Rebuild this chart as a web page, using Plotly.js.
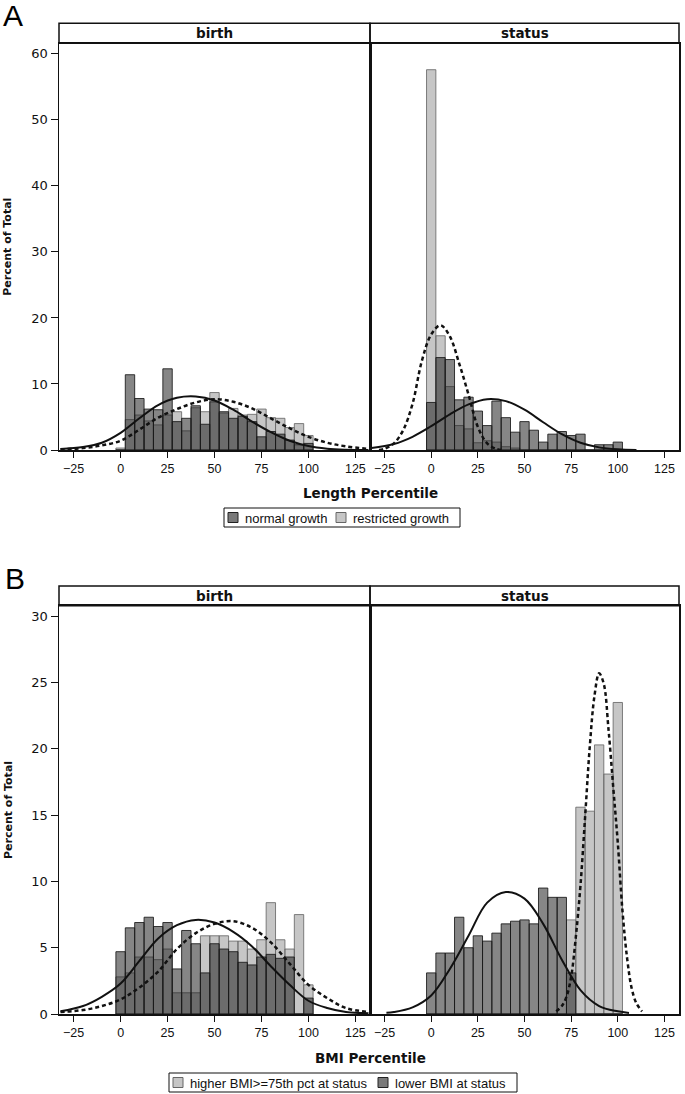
<!DOCTYPE html>
<html>
<head>
<meta charset="utf-8">
<script src="https://cdn.plot.ly/plotly-3.0.1.min.js"></script>
<style>
  html, body { margin: 0; padding: 0; background: #fff; }
  #chart { width: 685px; height: 1094px; }
</style>
</head>
<body>
<div id="chart"></div>
<script>
// bin centres (width 5) and axis ticks
const BINS = [0, 5, 10, 15, 20, 25, 30, 35, 40, 45, 50, 55, 60, 65, 70, 75, 80, 85, 90, 95, 100]
const X_TICKS = [-25, 0, 25, 50, 75, 100, 125]

// A: length percentile, percent of total
const lenBirthNormal = [0, 11.4, 7.8, 6.2, 6.1, 12.3, 4.3, 4.8, 6.7, 3.9, 7.3, 5.8, 4.8, 5.1, 4.3, 2.0, 2.8, 2.4, 1.5, 0.8, 1.0]
const lenBirthRestricted = [0.3, 4.6, 5.3, 4.4, 3.8, 5.3, 5.8, 2.9, 6.4, 5.8, 8.7, 5.6, 6.3, 5.3, 5.4, 6.2, 4.9, 4.8, 3.4, 4.0, 2.2]
const lenStatusNormal = [7.2, 14.0, 13.7, 7.6, 8.0, 5.9, 3.7, 7.4, 4.9, 2.7, 4.3, 3.0, 1.2, 2.4, 2.8, 2.2, 2.4, 0, 0.8, 0.8, 1.2]
const lenStatusRestricted = [57.6, 17.3, 9.6, 3.7, 3.2, 1.1, 1.4, 1.2, 0.5, 0.3, 0, 0, 0, 0, 0, 0, 0, 0, 0, 0, 0]

// B: BMI percentile, percent of total
const bmiBirthHigher = [2.8, 3.1, 4.3, 4.3, 4.1, 4.9, 1.6, 1.6, 1.6, 5.9, 5.9, 5.9, 5.5, 5.5, 4.9, 5.6, 8.4, 5.6, 4.9, 7.5, 2.2]
const bmiBirthLower = [4.7, 6.5, 6.9, 7.3, 6.6, 6.9, 3.4, 6.3, 5.3, 3.1, 5.3, 4.9, 4.7, 3.9, 3.7, 4.3, 4.5, 4.2, 4.3, 0, 1.2]
const bmiStatusHigher = [0, 0, 0, 0, 0, 0, 0, 0, 0, 0, 0, 0, 0, 0, 0, 7.1, 15.6, 15.3, 20.3, 18.1, 23.5]
const bmiStatusLower = [3.1, 4.6, 4.6, 7.3, 5.0, 5.9, 5.5, 6.1, 6.8, 7.0, 7.1, 6.8, 9.5, 8.8, 8.8, 3.1, 0, 0, 0, 0, 0]

// fitted normal curves
const curveX = [-32, -20, -10, 0, 10, 20, 30, 40, 50, 60, 70, 80, 90, 100, 110, 120, 132]
const lenBirthNormalCurve = [0.15, 0.45, 1.1, 2.6, 4.8, 6.8, 7.9, 8.1, 7.5, 6.1, 4.3, 2.7, 1.4, 0.6, 0.2, 0.05, 0]
const lenBirthRestrictedCurve = [0.1, 0.3, 0.7, 1.4, 3.1, 4.9, 6.2, 7.2, 7.7, 7.3, 6.3, 4.8, 3.3, 2.0, 1.1, 0.55, 0.15]
const bmiBirthLowerCurve = [0.2, 0.6, 1.3, 2.3, 4.0, 5.7, 6.7, 7.1, 6.9, 6.2, 5.1, 3.6, 2.2, 1.0, 0.45, 0.15, 0.05]
const bmiBirthHigherCurve = [0.15, 0.3, 0.6, 1.1, 2.0, 3.2, 4.9, 6.1, 6.8, 7.0, 6.5, 5.4, 3.8, 2.2, 1.2, 0.45, 0.15]

const lenStatusNormalX = [-32, -20, -10, 0, 10, 20, 30, 40, 50, 60, 70, 80, 90, 100, 110]
const lenStatusNormalCurve = [0.3, 0.9, 2.0, 3.6, 5.4, 6.9, 7.7, 7.4, 6.1, 4.2, 2.4, 1.1, 0.4, 0.1, 0]
const lenStatusRestrictedX = [-28, -25, -20, -15, -10, -5, 0, 5, 10, 15, 20, 25, 30, 35, 38]
const lenStatusRestrictedCurve = [0, 0.2, 1.0, 3.0, 7.0, 13.5, 17.5, 18.9, 17.2, 13.1, 8.4, 3.5, 1.0, 0.15, 0]

const bmiStatusLowerX = [-24, -20, -10, 0, 10, 20, 30, 40, 50, 60, 70, 80, 90, 100, 106]
const bmiStatusLowerCurve = [0.1, 0.15, 0.5, 1.4, 3.4, 5.9, 8.4, 9.2, 8.7, 6.8, 4.1, 1.8, 0.6, 0.2, 0.08]
const bmiStatusHigherX = [67, 70, 72.5, 75, 77.5, 80, 82.5, 85, 87.5, 90, 92.5, 95, 97.5, 100, 102.5, 105, 107.5, 110, 113]
const bmiStatusHigherCurve = [0.2, 0.6, 1.3, 2.8, 5.8, 9.7, 14.9, 20.2, 24.0, 25.7, 24.9, 21.5, 17.2, 12.9, 7.8, 4.2, 1.9, 0.8, 0.2]

// page geometry in pixels -> paper fractions
const W = 685, H = 1094
const px = v => v / W
const py = v => 1 - v / H

const LIGHT = { fill: 'rgba(128,128,128,0.45)', edge: 'rgba(105,105,105,0.85)', key: '#c6c6c6', keyEdge: '#666' }
const DARK = { fill: 'rgba(31,31,31,0.54)', edge: 'rgba(25,25,25,0.85)', key: '#7a7a7a', keyEdge: '#222' }
const INK = '#111'
const SANS = 'Liberation Sans, Arial, sans-serif'

const bars = (vals, style, name, xa, ya) => ({
    type: 'bar', x: BINS, y: vals, width: 5, name: name,
    xaxis: xa, yaxis: ya, showlegend: false,
    marker: { color: style.fill, line: { color: style.edge, width: 1 } },
    hoverinfo: 'skip'
})

const curve = (xs, ys, dashed, xa, ya) => ({
    type: 'scatter', mode: 'lines', x: xs, y: ys, xaxis: xa, yaxis: ya,
    showlegend: false, hoverinfo: 'skip',
    line: { color: INK, width: dashed ? 2.5 : 2, dash: dashed ? '4px,3px' : 'solid', shape: 'spline', smoothing: 1 }
})

let data = [
    // A birth
    bars(lenBirthRestricted, LIGHT, 'restricted growth', 'x', 'y'),
    bars(lenBirthNormal, DARK, 'normal growth', 'x', 'y'),
    curve(curveX, lenBirthNormalCurve, false, 'x', 'y'),
    curve(curveX, lenBirthRestrictedCurve, true, 'x', 'y'),
    // A status
    bars(lenStatusRestricted, LIGHT, 'restricted growth', 'x2', 'y2'),
    bars(lenStatusNormal, DARK, 'normal growth', 'x2', 'y2'),
    curve(lenStatusNormalX, lenStatusNormalCurve, false, 'x2', 'y2'),
    curve(lenStatusRestrictedX, lenStatusRestrictedCurve, true, 'x2', 'y2'),
    // B birth
    bars(bmiBirthHigher, LIGHT, 'higher BMI>=75th pct at status', 'x3', 'y3'),
    bars(bmiBirthLower, DARK, 'lower BMI at status', 'x3', 'y3'),
    curve(curveX, bmiBirthLowerCurve, false, 'x3', 'y3'),
    curve(curveX, bmiBirthHigherCurve, true, 'x3', 'y3'),
    // B status
    bars(bmiStatusHigher, LIGHT, 'higher BMI>=75th pct at status', 'x4', 'y4'),
    bars(bmiStatusLower, DARK, 'lower BMI at status', 'x4', 'y4'),
    curve(bmiStatusLowerX, bmiStatusLowerCurve, false, 'x4', 'y4'),
    curve(bmiStatusHigherX, bmiStatusHigherCurve, true, 'x4', 'y4')
]

const axisBase = {
    showline: true, mirror: true, linecolor: INK, linewidth: 1.5,
    showgrid: false, zeroline: false, fixedrange: true
}
const xAxis = (left, right, anchor) => ({
    ...axisBase, anchor: anchor, domain: [px(left), px(right)],
    range: [-32.8, 132.8], tickvals: X_TICKS, ticks: 'outside', ticklen: 6, tickwidth: 1, tickcolor: INK,
    tickfont: { family: SANS, size: 12.5, color: INK }
})
const yAxis = (top, bottom, ymax, dtick, anchor, labels) => ({
    ...axisBase, anchor: anchor, domain: [py(bottom), py(top)],
    range: [0, ymax], dtick: dtick, ticks: labels ? 'outside' : '', ticklen: 7, tickwidth: 1, tickcolor: INK,
    showticklabels: labels,
    tickfont: { family: 'DejaVu Sans', size: 13, color: INK }
})

const stripFont = { family: 'DejaVu Sans', size: 13.5, color: INK }
const box = (x0, x1, y0, y1, fill, edge, w) => ({
    type: 'rect', xref: 'paper', yref: 'paper', x0: px(x0), x1: px(x1), y0: py(y1), y1: py(y0),
    line: { color: edge, width: w }, fillcolor: fill
})
const note = (text, x, y, font, extra) => ({
    text: text, xref: 'paper', yref: 'paper', x: px(x), y: py(y),
    xanchor: 'center', yanchor: 'middle', showarrow: false, font: font, ...extra
})

// hand-built legend boxes: [left, right, top, bottom] and per item the key's left edge and text start
const legendFont = { family: SANS, size: 13, color: INK }
const legendA = { frame: [224, 460, 508, 527], items: [['normal growth', DARK, 228, 243], ['restricted growth', LIGHT, 336, 351]] }
const legendB = { frame: [169, 517, 1073, 1092], items: [['higher BMI>=75th pct at status', LIGHT, 173, 188], ['lower BMI at status', DARK, 378, 393]] }

let shapes = [
    box(59, 370, 23.3, 43.3, 'rgba(0,0,0,0)', INK, 1.5), box(370, 679, 23.3, 43.3, 'rgba(0,0,0,0)', INK, 1.5),
    box(59, 370, 586, 605.7, 'rgba(0,0,0,0)', INK, 1.5), box(370, 679, 586, 605.7, 'rgba(0,0,0,0)', INK, 1.5)
]
let annotations = [
    note('A', 13, 16, { family: SANS, size: 30, color: '#000' }),
    note('B', 15, 578, { family: SANS, size: 30, color: '#000' }),
    note('<b>birth</b>', 214.5, 33.3, stripFont),
    note('<b>status</b>', 524.5, 33.3, stripFont),
    note('<b>birth</b>', 214.5, 595.9, stripFont),
    note('<b>status</b>', 524.5, 595.9, stripFont),
    note('<b>Percent of Total</b>', 8, 246.7, { family: 'DejaVu Sans', size: 11, color: INK }, { textangle: -90 }),
    note('<b>Percent of Total</b>', 8, 810, { family: 'DejaVu Sans', size: 11, color: INK }, { textangle: -90 }),
    note('<b>Length Percentile</b>', 370, 493, { family: 'DejaVu Sans', size: 13.5, color: INK }),
    note('<b>BMI Percentile</b>', 370, 1058, { family: 'DejaVu Sans', size: 13.5, color: INK })
]
for (const lg of [legendA, legendB]) {
    const [l, r, t, b] = lg.frame
    const mid = (t + b) / 2
    shapes.push(box(l, r, t, b, '#fff', INK, 1))
    for (const [name, style, keyX, textX] of lg.items) {
        shapes.push(box(keyX, keyX + 10, mid - 5, mid + 5, style.key, style.keyEdge, 1))
        annotations.push(note(name, textX, mid + 0.5, legendFont, { xanchor: 'left' }))
    }
}

let layout = {
    width: W, height: H,
    margin: { l: 0, r: 0, t: 0, b: 0 },
    paper_bgcolor: '#fff', plot_bgcolor: 'rgba(0,0,0,0)',
    barmode: 'overlay', bargap: 0,
    showlegend: false,
    xaxis: xAxis(59, 370, 'y'),
    yaxis: yAxis(43.3, 450, 61.6, 10, 'x', true),
    xaxis2: xAxis(370, 679, 'y2'),
    yaxis2: yAxis(43.3, 450, 61.6, 10, 'x2', false),
    xaxis3: xAxis(59, 370, 'y3'),
    yaxis3: yAxis(605.7, 1014, 30.8, 5, 'x3', true),
    xaxis4: xAxis(370, 679, 'y4'),
    yaxis4: yAxis(605.7, 1014, 30.8, 5, 'x4', false),
    shapes: shapes,
    annotations: annotations
}

Plotly.newPlot('chart', data, layout, { displayModeBar: false, staticPlot: true })
</script>
</body>
</html>
